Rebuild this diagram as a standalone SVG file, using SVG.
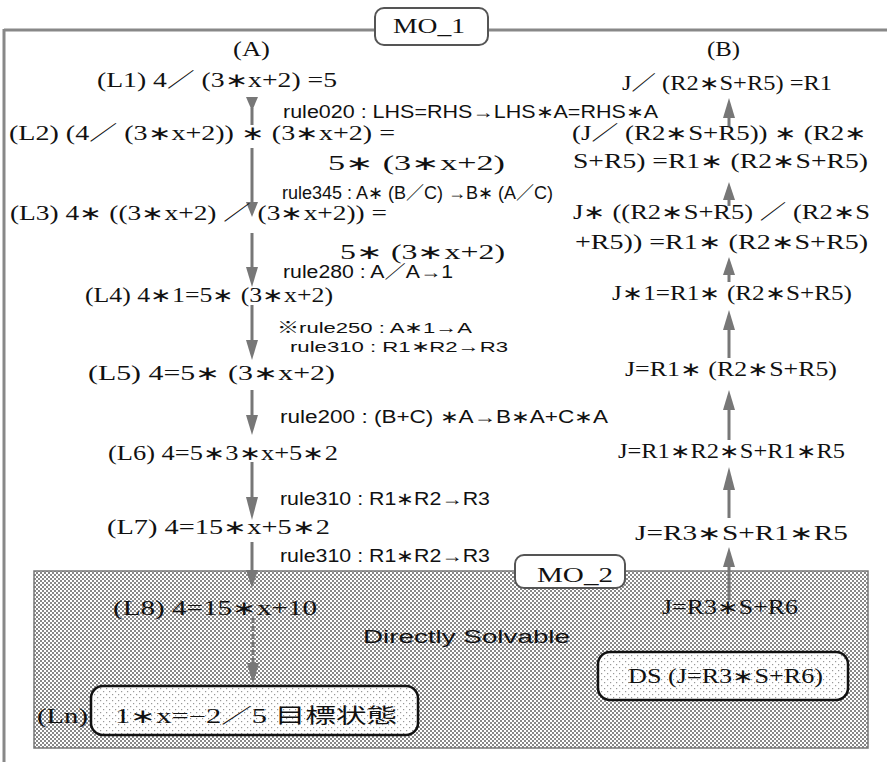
<svg xmlns="http://www.w3.org/2000/svg" width="887" height="762" viewBox="0 0 887 762">
<defs>
<pattern id="dense" width="4" height="4" patternUnits="userSpaceOnUse">
<rect width="4" height="4" fill="#fff"/>
<rect x="0" y="0" width="2" height="2" fill="#888"/>
<rect x="2" y="2" width="2" height="2" fill="#888"/>
</pattern>
<pattern id="sparse" width="6" height="6" patternUnits="userSpaceOnUse">
<rect width="6" height="6" fill="#fff"/>
<rect x="1" y="1" width="1.2" height="1.2" fill="#999"/>
<rect x="4" y="4" width="1.2" height="1.2" fill="#999"/>
</pattern>
</defs>
<style>
.f{font-family:"Liberation Serif","Noto Sans CJK JP",serif;font-size:20px;fill:#111}
.r{font-family:"Liberation Sans","Noto Sans CJK JP",sans-serif;font-size:18px;fill:#111}
.rs{font-size:15.5px}
.frame{stroke:#888;stroke-width:3;fill:none}
.ln{stroke:#777;stroke-width:3;fill:none}
.hd{fill:#777}
</style>

<g id="frame">
<line class="frame" x1="4" y1="30" x2="887" y2="30"/>
<line class="frame" x1="4" y1="29" x2="4" y2="762"/>
</g>

<g id="mo2-area">
<rect x="34" y="571" width="834" height="177" fill="url(#dense)" stroke="#777" stroke-width="1.5"/>
</g>

<g id="mo1-label">
<rect x="375" y="8" width="113" height="37" rx="9" fill="#fff" stroke="#555" stroke-width="2"/>
<text class="f" x="393" y="33" textLength="72" lengthAdjust="spacingAndGlyphs">MO_1</text>
</g>
<g id="mo2-label">
<rect x="515" y="555" width="110" height="33" rx="9" fill="#fff" stroke="#555" stroke-width="2"/>
<text class="f" x="537" y="582" textLength="76" lengthAdjust="spacingAndGlyphs">MO_2</text>
</g>

<g id="headers">
<text class="f" x="233" y="56" textLength="37" lengthAdjust="spacingAndGlyphs">(A)</text>
<text class="f" x="707" y="56" textLength="33" lengthAdjust="spacingAndGlyphs">(B)</text>
</g>

<g id="connectors">
<line class="ln" x1="252" y1="108" x2="252" y2="125"/>
<path class="hd" d="M246,97 L258,97 L252,111 Z"/>
<line class="ln" x1="252" y1="148" x2="252" y2="205"/>
<path class="hd" d="M246,202 L258,202 L252,217 Z"/>
<line class="ln" x1="252" y1="233" x2="252" y2="270"/>
<path class="hd" d="M246,267 L258,267 L252,287 Z"/>
<line class="ln" x1="252" y1="305" x2="252" y2="343"/>
<path class="hd" d="M246,340 L258,340 L252,360 Z"/>
<line class="ln" x1="252" y1="390" x2="252" y2="418"/>
<path class="hd" d="M246,415 L258,415 L252,435 Z"/>
<line class="ln" x1="252" y1="462" x2="252" y2="500"/>
<path class="hd" d="M246,497 L258,497 L252,520 Z"/>
<line class="ln" x1="252" y1="542" x2="252" y2="573"/>
<path class="hd" d="M246,570 L258,570 L252,588 Z"/>
<line class="ln" x1="253" y1="618" x2="253" y2="665" stroke-dasharray="5,3"/>
<path class="hd" d="M247,663 L259,663 L253,684 Z"/>
<path class="hd" d="M729,98 L735,118 L723,118 Z"/>
<line class="ln" x1="729" y1="117" x2="729" y2="126"/>
<path class="hd" d="M729,182 L735,200 L723,200 Z"/>
<line class="ln" x1="729" y1="199" x2="729" y2="206"/>
<path class="hd" d="M729,257 L735,275 L723,275 Z"/>
<line class="ln" x1="729" y1="274" x2="729" y2="282"/>
<path class="hd" d="M729,310 L735,330 L723,330 Z"/>
<line class="ln" x1="729" y1="329" x2="729" y2="358"/>
<path class="hd" d="M729,390 L735,410 L723,410 Z"/>
<line class="ln" x1="729" y1="409" x2="729" y2="440"/>
<path class="hd" d="M729,467 L735,490 L723,490 Z"/>
<line class="ln" x1="729" y1="489" x2="729" y2="518"/>
<path class="hd" d="M729,547 L735,567 L723,567 Z"/>
<line class="ln" x1="729" y1="566" x2="729" y2="600"/>
</g>

<g id="L1"><text class="f" x="97" y="87" textLength="240" lengthAdjust="spacingAndGlyphs">(L1) 4／ (3∗x+2) =5</text></g>
<g id="rule020"><text class="r" x="283" y="118" textLength="375" lengthAdjust="spacingAndGlyphs">rule020 : LHS=RHS→LHS∗A=RHS∗A</text></g>
<g id="L2">
<text class="f" x="9" y="140" textLength="386" lengthAdjust="spacingAndGlyphs">(L2) (4／ (3∗x+2)) ∗ (3∗x+2) =</text>
<text class="f" x="328" y="170" textLength="177" lengthAdjust="spacingAndGlyphs">5∗ (3∗x+2)</text>
</g>
<g id="rule345"><text class="r" x="282" y="199" textLength="271" lengthAdjust="spacingAndGlyphs">rule345 : A∗ (B／C) →B∗ (A／C)</text></g>
<g id="L3">
<text class="f" x="10" y="220" textLength="377" lengthAdjust="spacingAndGlyphs">(L3) 4∗ ((3∗x+2) ／ (3∗x+2)) =</text>
<text class="f" x="340" y="259" textLength="165" lengthAdjust="spacingAndGlyphs">5∗ (3∗x+2)</text>
</g>
<g id="rule280"><text class="r" x="283" y="278" textLength="170" lengthAdjust="spacingAndGlyphs">rule280 : A／A→1</text></g>
<g id="L4"><text class="f" x="85" y="302" textLength="248" lengthAdjust="spacingAndGlyphs">(L4) 4∗1=5∗ (3∗x+2)</text></g>
<g id="rule250">
<text class="r rs" x="277" y="333" textLength="195" lengthAdjust="spacingAndGlyphs">※rule250 : A∗1→A</text>
<text class="r rs" x="290" y="352" textLength="218" lengthAdjust="spacingAndGlyphs">rule310 : R1∗R2→R3</text>
</g>
<g id="L5"><text class="f" x="88" y="380" textLength="247" lengthAdjust="spacingAndGlyphs">(L5)  4=5∗ (3∗x+2)</text></g>
<g id="rule200"><text class="r" x="280" y="423" textLength="328" lengthAdjust="spacingAndGlyphs">rule200 : (B+C) ∗A→B∗A+C∗A</text></g>
<g id="L6"><text class="f" x="108" y="460" textLength="230" lengthAdjust="spacingAndGlyphs">(L6)  4=5∗3∗x+5∗2</text></g>
<g id="rule310b"><text class="r" x="280" y="505" textLength="210" lengthAdjust="spacingAndGlyphs">rule310 : R1∗R2→R3</text></g>
<g id="L7"><text class="f" x="107" y="534" textLength="223" lengthAdjust="spacingAndGlyphs">(L7) 4=15∗x+5∗2</text></g>
<g id="rule310c"><text class="r" x="280" y="562" textLength="210" lengthAdjust="spacingAndGlyphs">rule310 : R1∗R2→R3</text></g>
<g id="L8"><text class="f" x="113" y="615" textLength="204" lengthAdjust="spacingAndGlyphs">(L8)  4=15∗x+10</text></g>
<g id="ds-label"><text class="r" x="363" y="643" textLength="207" lengthAdjust="spacingAndGlyphs">Directly Solvable</text></g>
<g id="Ln">
<text class="f" x="37" y="723" textLength="51" lengthAdjust="spacingAndGlyphs">(Ln)</text>
<rect x="91" y="686" width="327" height="49" rx="12" fill="url(#sparse)" stroke="#111" stroke-width="2.5"/>
<text class="f" x="115" y="723" textLength="282" lengthAdjust="spacingAndGlyphs">1∗x=−2／5  目標状態</text>
</g>
<g id="DS">
<rect x="598" y="652" width="250" height="48" rx="12" fill="url(#sparse)" stroke="#111" stroke-width="2.5"/>
<text class="f" x="628" y="683" textLength="195" lengthAdjust="spacingAndGlyphs">DS (J=R3∗S+R6)</text>
</g>

<g id="R1"><text class="f" x="622" y="90" textLength="210" lengthAdjust="spacingAndGlyphs">J／ (R2∗S+R5) =R1</text></g>
<g id="R2">
<text class="f" x="572" y="140" textLength="295" lengthAdjust="spacingAndGlyphs">(J／ (R2∗S+R5)) ∗ (R2∗</text>
<text class="f" x="573" y="168" textLength="295" lengthAdjust="spacingAndGlyphs">S+R5) =R1∗ (R2∗S+R5)</text>
</g>
<g id="R3">
<text class="f" x="573" y="219" textLength="297" lengthAdjust="spacingAndGlyphs">J∗ ((R2∗S+R5) ／ (R2∗S</text>
<text class="f" x="575" y="249" textLength="293" lengthAdjust="spacingAndGlyphs">+R5)) =R1∗ (R2∗S+R5)</text>
</g>
<g id="R4"><text class="f" x="612" y="300" textLength="240" lengthAdjust="spacingAndGlyphs">J∗1=R1∗ (R2∗S+R5)</text></g>
<g id="R5"><text class="f" x="625" y="376" textLength="212" lengthAdjust="spacingAndGlyphs">J=R1∗ (R2∗S+R5)</text></g>
<g id="R6"><text class="f" x="618" y="458" textLength="227" lengthAdjust="spacingAndGlyphs">J=R1∗R2∗S+R1∗R5</text></g>
<g id="R7"><text class="f" x="635" y="540" textLength="213" lengthAdjust="spacingAndGlyphs">J=R3∗S+R1∗R5</text></g>
<g id="R8"><text class="f" x="662" y="614" textLength="136" lengthAdjust="spacingAndGlyphs">J=R3∗S+R6</text></g>
</svg>
